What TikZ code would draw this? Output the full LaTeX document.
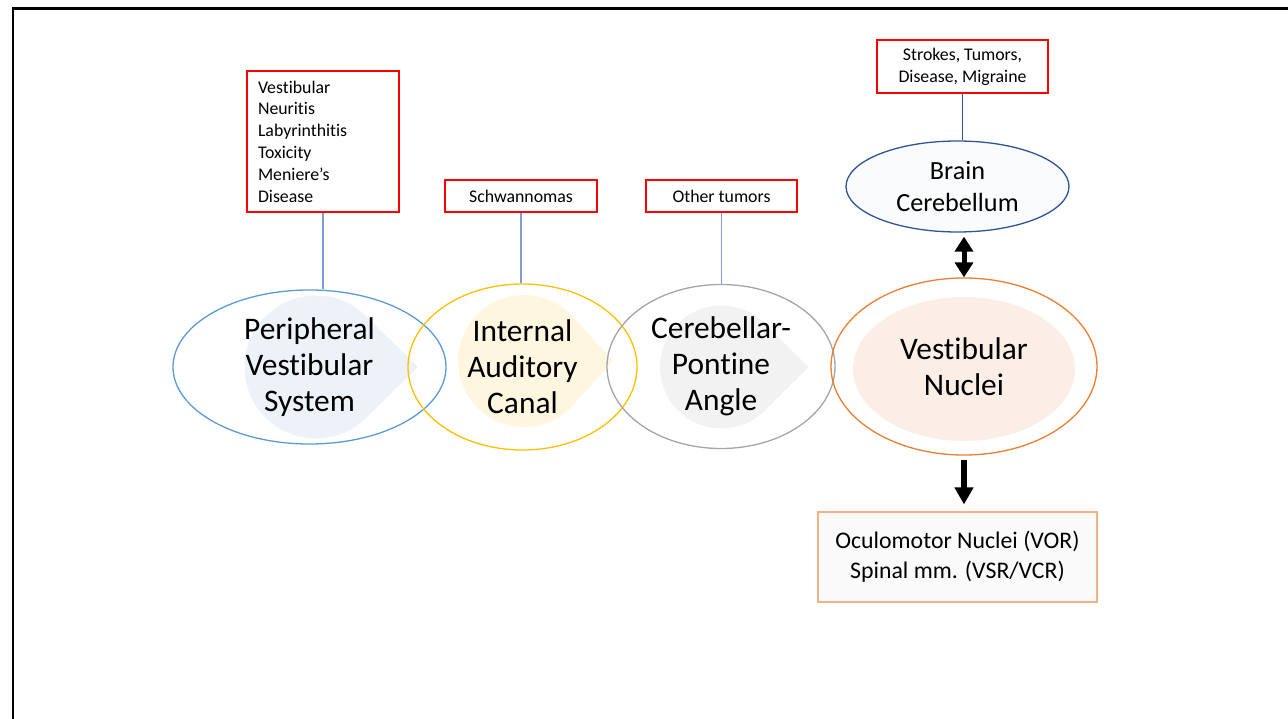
\documentclass[tikz,border=0pt]{standalone}
\usepackage{fontspec}
\setmainfont{Carlito}[Ligatures={NoCommon}]
\usetikzlibrary{shapes.geometric,arrows.meta,calc}

\definecolor{pvsline}{HTML}{5B9BD5}
\definecolor{pvsfill}{HTML}{EDF2F9}
\definecolor{iacline}{HTML}{FFC000}
\definecolor{iacfill}{HTML}{FFF6E0}
\definecolor{cpaline}{HTML}{A5A5A5}
\definecolor{cpafill}{HTML}{F2F2F2}
\definecolor{vnline}{HTML}{ED7D31}
\definecolor{vnfill}{HTML}{FBEEE6}
\definecolor{brainline}{HTML}{2F5597}
\definecolor{brainfill}{HTML}{FAFBFC}
\definecolor{causered}{HTML}{FF0000}
\definecolor{linkblue}{HTML}{7F9BD3}
\definecolor{outline}{HTML}{F4B183}
\definecolor{outfill}{HTML}{FAFAFA}

\tikzset{
  site/.style={ellipse, line width=1.3pt, inner sep=0pt, align=center,
    font=\fontsize{31.4}{36}\selectfont},
  cause/.style={draw=causered, line width=1.8pt, inner sep=0pt, align=center,
    font=\fontsize{17.8}{21.8}\selectfont},
  link/.style={draw=linkblue, line width=1.1pt},
  bigarrow/.style={line width=5.5pt, -{Triangle[width=18pt,length=17pt]}},
  twoway/.style={line width=5pt, {Triangle[width=18pt,length=15pt]}-{Triangle[width=18pt,length=15pt]}},
}

% teardrop: circle centre, radius, distance from centre to the point
\newcommand{\tear}[5]{%
  \pgfmathsetmacro{\ang}{acos(#3/#4)}%
  \fill[#5] ($(#1,#2)+(\ang:#3)$) arc[start angle=\ang, end angle=360-\ang, radius=#3]
    -- (#1+#4,#2) -- cycle;}

\begin{document}
\begin{tikzpicture}[x=1pt,y=-1pt]
\useasboundingbox (0,0) rectangle (1288,719);

% page frame
\draw[line width=2.7pt, line cap=rect] (13,720) -- (13,8.7) -- (1290,8.7);

% soft inner shapes
\tear{316}{367}{71.5}{102}{pvsfill}
\tear{524}{361}{66}{89}{iacfill}
\tear{721.5}{367}{61.5}{87}{cpafill}
\fill[vnfill] (964,369) ellipse[x radius=111, y radius=72];

% main stations
\node[site, draw=pvsline, minimum width=273pt, minimum height=154pt] (pvs) at (309.5,367)
  {Peripheral\\Vestibular\\System};
\node[site, draw=iacline, minimum width=229pt, minimum height=166pt] (iac) at (522.5,367)
  {Internal\\Auditory\\Canal};
\node[site, draw=cpaline, minimum width=228pt, minimum height=164pt] (cpa) at (721,366.5)
  {Cerebellar-\\Pontine\\Angle};
\node[site, draw=vnline, minimum width=266pt, minimum height=177pt] (vn) at (964,366.5)
  {Vestibular\\Nuclei};
\node[site, draw=brainline, fill=brainfill, minimum width=223pt, minimum height=91pt,
  font=\fontsize{26.2}{31.5}\selectfont] (brain) at (957.5,186.5)
  {Brain\\Cerebellum};

% causes
\node[cause, minimum width=152pt, minimum height=141pt, text width=130pt, align=left] (vbox) at (323,141.5)
  {Vestibular\\Neuritis\\Labyrinthitis\\Toxicity\\Meniere’s\\Disease};
\node[cause, minimum width=152pt, minimum height=32pt] (sch) at (521,196) {Schwannomas};
\node[cause, minimum width=151pt, minimum height=32pt] (oth) at (721.5,196) {Other tumors};
\node[cause, minimum width=171pt, minimum height=53pt] (strk) at (962.5,66.5)
  {Strokes, Tumors,\\Disease, Migraine};

% output
\node[draw=outline, fill=outfill, line width=1.1pt, minimum width=279pt, minimum height=90pt,
  align=center, font=\fontsize{23.8}{30}\selectfont] (out) at (957.5,557)
  {Oculomotor Nuclei (VOR)\\Spinal mm. (VSR/VCR)};

% links
\draw[link] (vbox.south) -- (vbox.south |- pvs.north);
\draw[link] (sch.south) -- (sch.south |- iac.north);
\draw[link] (oth.south) -- (oth.south |- cpa.north);
\draw[draw=brainline, line width=1pt] (strk.south) -- (strk.south |- brain.north);

\draw[twoway, shorten <=4pt] (vn.north |- brain.south) -- (vn.north);
\draw[bigarrow, shorten <=4pt, shorten >=7pt] (vn.south) -- (vn.south |- out.north);
\end{tikzpicture}
\end{document}
